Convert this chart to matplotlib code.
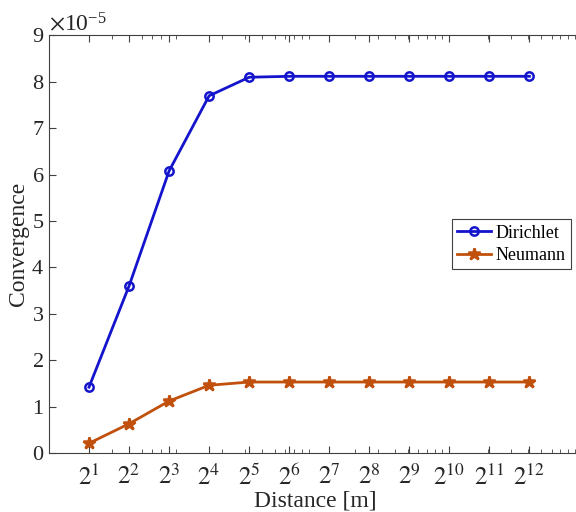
import numpy as np
import matplotlib.pyplot as plt
from matplotlib.ticker import FixedLocator, LogLocator, NullFormatter, ScalarFormatter

plt.rcParams['font.family'] = ['Liberation Serif', 'DejaVu Serif']
plt.rcParams['mathtext.fontset'] = 'stix'

exponentes = np.arange(1, 13)
distancia = 2.0 ** exponentes
dirichlet = [1.42e-5, 3.60e-5, 6.08e-5, 7.70e-5, 8.10e-5, 8.12e-5,
             8.12e-5, 8.12e-5, 8.12e-5, 8.12e-5, 8.12e-5, 8.12e-5]
neumann = [0.21e-5, 0.63e-5, 1.12e-5, 1.46e-5, 1.53e-5, 1.53e-5,
           1.53e-5, 1.53e-5, 1.53e-5, 1.53e-5, 1.53e-5, 1.53e-5]
etiquetas = ["$2^{%d}$" % e for e in exponentes]

gris = "0.25"
fig = plt.figure(figsize=(5.76, 5.12), dpi=100)
ax = fig.add_axes([0.085, 0.1152, 0.9237, 0.8155])

ax.plot(distancia, dirichlet, "-o", color="#1414cc", lw=2, ms=6,
        mfc="none", mew=1.8, label="Dirichlet")
ax.plot(distancia, neumann, "-*", color="#c0500c", lw=2, ms=9,
        mew=1.8, label="Neumann")

ax.set_xscale("log")
ax.set_xlim(1, 1e4)
ax.set_ylim(0, 9e-5)
ax.xaxis.set_major_locator(FixedLocator(distancia))
ax.set_xticklabels(etiquetas)
ax.xaxis.set_minor_locator(LogLocator(base=10, subs=np.arange(2, 10)))
ax.xaxis.set_minor_formatter(NullFormatter())
ax.set_yticks(np.arange(0, 10) * 1e-5)
fmt = ScalarFormatter(useMathText=True)
fmt.set_powerlimits((0, 0))
ax.yaxis.set_major_formatter(fmt)
ax.yaxis.get_offset_text().set_fontsize(17)
ax.yaxis.get_offset_text().set_color("0.15")

ax.tick_params(which="both", direction="in", top=True, right=False,
               colors=gris, labelcolor="0.15", labelsize=16)
ax.tick_params(axis="x", which="major", labelsize=18, pad=8)
ax.tick_params(which="major", length=5)
ax.tick_params(which="minor", length=3)
for s in ax.spines.values():
    s.set_color(gris)
    s.set_linewidth(0.8)

ax.set_xlabel("Distance [m]", fontsize=17, color="0.15", labelpad=1)
ax.set_ylabel("Convergence", fontsize=17, color="0.15", labelpad=2)

leg = ax.legend(loc="upper left", bbox_to_anchor=(0.757, 0.56), fontsize=13,
                fancybox=False, edgecolor=gris, framealpha=1,
                handlelength=1.9, borderpad=0.3, labelspacing=0.3,
                handletextpad=0.25, borderaxespad=0)
leg.get_frame().set_linewidth(0.8)

fig.savefig("out.png", dpi=100)
